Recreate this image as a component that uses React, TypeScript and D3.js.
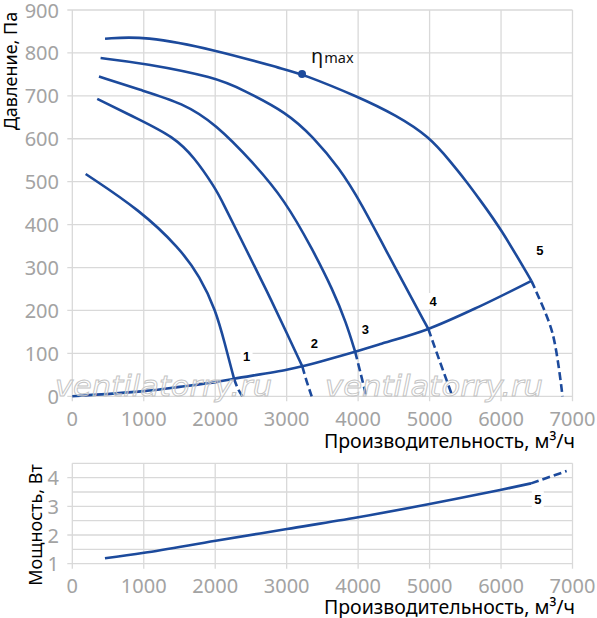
import * as d3 from "d3";

type Pt = [number, number];

// axis ticks
const flowTicks = [0, 1000, 2000, 3000, 4000, 5000, 6000, 7000];
const pressureTicks = [0, 100, 200, 300, 400, 500, 600, 700, 800, 900];
const powerTicks = [1, 2, 3, 4];
const powerGrid = [1, 1.5, 2, 2.5, 3, 3.5, 4, 4.5];

// fan curves, [flow m3/h, pressure Pa]
const curve1: Pt[] = [[187, 518], [945, 434], [1504, 345], [1785, 279], [2007, 201], [2133, 124], [2263, 41]];
const curve1Tail: Pt[] = [[2263, 41], [2320, 17], [2380, 0]];
const curve2: Pt[] = [[349, 693], [945, 644], [1411, 605], [1704, 558], [2007, 483], [2086, 458], [2436, 341], [2715, 248], [3003, 147], [3218, 70]];
const curve2Tail: Pt[] = [[3218, 70], [3280, 35], [3350, 0]];
const curve3: Pt[] = [[373, 745], [945, 714], [1550, 683], [2007, 634], [2528, 545], [2971, 458], [3366, 341], [3646, 248], [3832, 172], [3958, 104]];
const curve3Tail: Pt[] = [[3958, 104], [4040, 50], [4115, 0]];
const curve4: Pt[] = [[396, 788], [1005, 776], [2007, 743], [2388, 714], [3003, 661], [3366, 605], [3739, 531], [4018, 458], [4510, 302], [4982, 157]];
const curve4Tail: Pt[] = [[4982, 157], [5135, 85], [5320, 0]];
const curve5: Pt[] = [[458, 833], [1005, 840], [2007, 807], [3003, 760], [3215, 751], [4000, 698], [4531, 655], [4996, 605], [5300, 545], [5508, 502], [5694, 460], [6000, 390], [6425, 269]];
const curve5Tail: Pt[] = [[6425, 269], [6490, 245], [6720, 147], [6860, 0]];
const systemCurve: Pt[] = [[0, 0], [1000, 12], [1500, 22], [2000, 33], [2263, 41], [3000, 62], [3218, 70], [3958, 104], [4298, 121], [4982, 157], [5694, 209], [6425, 269]];
const etaMax: Pt = [3215, 751];

const curveLabels = ["1", "2", "3", "4", "5"];
const curveLabelPos: Pt[] = [[2439, 92], [3389, 122], [4101, 155], [5050, 222], [6542, 339]];

// power curve, [flow m3/h, power W]
const powerCurve: Pt[] = [[457, 1.19], [1005, 1.38], [2007, 1.8], [3003, 2.21], [4000, 2.62], [5000, 3.08], [5987, 3.57], [6420, 3.8]];
const powerTail: Pt[] = [[6420, 3.8], [6918, 4.23]];
const powerLabelPos: Pt = [6514, 3.25];

const BLUE = "#1c4a9c";
const GRID = "#d9d9d9";
const TICK = "#a3a3a3";
const FONT = "'Noto Sans', 'Open Sans', sans-serif";

export default function App() {
  const x = d3.scaleLinear().domain([0, 7000]).range([72.3, 572.5]);
  const yP = d3.scaleLinear().domain([0, 900]).range([396.3, 10]);
  const yW = d3.scaleLinear().domain([1, 4.5]).range([563.7, 463.3]);

  const smooth = d3.curveCatmullRom.alpha(0.5);
  const lineP = d3.line<Pt>().x((d) => x(d[0])).y((d) => yP(d[1])).curve(smooth);
  const lineFan = d3.line<Pt>().x((d) => x(d[0])).y((d) => yP(d[1])).curve(d3.curveBasis);
  const lineW = d3.line<Pt>().x((d) => x(d[0])).y((d) => yW(d[1])).curve(smooth);

  const fans = [curve1, curve2, curve3, curve4, curve5];
  const tails = [curve1Tail, curve2Tail, curve3Tail, curve4Tail, curve5Tail];

  return (
    <svg width={597} height={618} style={{ position: "absolute", left: 0, top: 0, background: "#fff" }} fontFamily={FONT}>
      {/* pressure chart grid */}
      <g stroke={GRID} strokeWidth={1.3}>
        {pressureTicks.map((t) => (
          <line key={"hp" + t} x1={x(0) - 5} x2={x(7000)} y1={yP(t)} y2={yP(t)} />
        ))}
        {flowTicks.map((t) => (
          <line key={"vp" + t} x1={x(t)} x2={x(t)} y1={yP(900)} y2={yP(0) + 5} />
        ))}
      </g>
      <g fill={TICK} fontSize={20}>
        {pressureTicks.map((t) => (
          <text key={"lp" + t} x={59} y={yP(t)} textAnchor="end" dominantBaseline="central">{t}</text>
        ))}
        {flowTicks.map((t) => (
          <text key={"lf" + t} x={x(t)} y={418} textAnchor="middle" dominantBaseline="central">{t}</text>
        ))}
      </g>
      <text transform="translate(10,71) rotate(-90)" textAnchor="middle" dominantBaseline="central" fontSize={18} fill="#000">
        Давление, Па
      </text>
      <text x={575} y={440} textAnchor="end" dominantBaseline="central" fontSize={19.5} fill="#000">
        Производительность, м³/ч
      </text>

      {/* fan curves */}
      <g fill="none" stroke={BLUE} strokeWidth={2.6} strokeLinejoin="round">
        {fans.map((c, i) => (
          <path key={"s" + i} d={lineFan(c) ?? ""} />
        ))}
        <path d={lineP(systemCurve) ?? ""} />
        {tails.map((c, i) => (
          <path key={"d" + i} d={lineP(c) ?? ""} strokeDasharray="8,4" />
        ))}
      </g>
      <circle cx={x(etaMax[0])} cy={yP(etaMax[1])} r={4} fill={BLUE} />
      <text x={x(etaMax[0]) + 9} y={yP(etaMax[1]) - 11} fontSize={20} fill="#111">
        η<tspan fontSize={14.5} dx={1}>max</tspan>
      </text>
      {curveLabels.map((l, i) => (
        <g key={"cl" + l}>
          <rect x={x(curveLabelPos[i][0]) - 6} y={yP(curveLabelPos[i][1]) - 8} width={12} height={16} fill="#fff" />
          <text x={x(curveLabelPos[i][0])} y={yP(curveLabelPos[i][1])} textAnchor="middle" dominantBaseline="central"
            fontFamily="'Liberation Sans', Arial, sans-serif" fontWeight="bold" fontSize={13} fill="#000">{l}</text>
        </g>
      ))}

      {/* watermark */}
      <g fontFamily="'DejaVu Sans', sans-serif" fontStyle="italic" fontSize={28} fill="#fff" fillOpacity={0.35} stroke="#c4c4c4" strokeWidth={0.9}>
        <text x={55} y={396} textLength={217} lengthAdjust="spacingAndGlyphs">ventilatorry.ru</text>
        <text x={325} y={396} textLength={218} lengthAdjust="spacingAndGlyphs">ventilatorry.ru</text>
      </g>

      {/* power chart */}
      <g stroke={GRID} strokeWidth={1.3}>
        {powerGrid.map((t) => (
          <line key={"hw" + t} x1={Number.isInteger(t) ? x(0) - 5 : x(0)} x2={x(7000)} y1={yW(t)} y2={yW(t)} />
        ))}
        {flowTicks.map((t) => (
          <line key={"vw" + t} x1={x(t)} x2={x(t)} y1={yW(4.5)} y2={yW(1) + 5} />
        ))}
      </g>
      <g fill={TICK} fontSize={20}>
        {powerTicks.map((t) => (
          <text key={"lw" + t} x={59} y={yW(t)} textAnchor="end" dominantBaseline="central">{t}</text>
        ))}
        {flowTicks.map((t) => (
          <text key={"lf2" + t} x={x(t)} y={585} textAnchor="middle" dominantBaseline="central">{t}</text>
        ))}
      </g>
      <text transform="translate(34.5,525) rotate(-90)" textAnchor="middle" dominantBaseline="central" fontSize={18} fill="#000">
        Мощность, Вт
      </text>
      <text x={575} y={606} textAnchor="end" dominantBaseline="central" fontSize={19.5} fill="#000">
        Производительность, м³/ч
      </text>
      <g fill="none" stroke={BLUE} strokeWidth={2.6}>
        <path d={lineW(powerCurve) ?? ""} />
        <path d={lineW(powerTail) ?? ""} strokeDasharray="8,4" />
      </g>
      <rect x={x(powerLabelPos[0]) - 6} y={yW(powerLabelPos[1]) - 8} width={12} height={16} fill="#fff" />
      <text x={x(powerLabelPos[0])} y={yW(powerLabelPos[1])} textAnchor="middle" dominantBaseline="central"
        fontFamily="'Liberation Sans', Arial, sans-serif" fontWeight="bold" fontSize={13} fill="#000">5</text>
    </svg>
  );
}
